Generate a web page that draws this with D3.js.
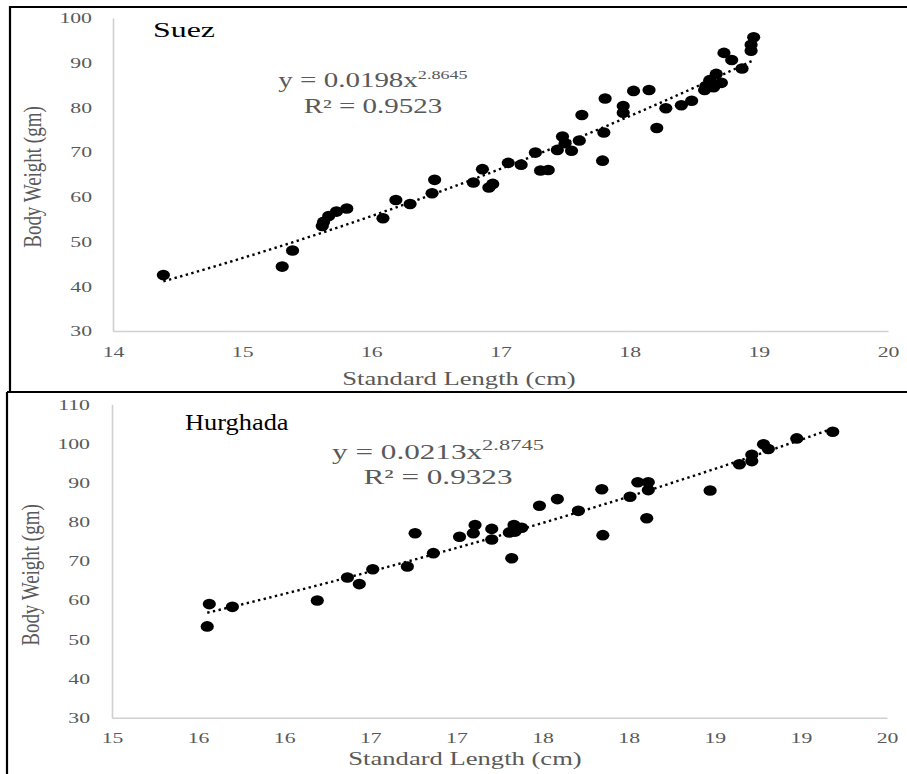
<!DOCTYPE html>
<html>
<head>
<meta charset="utf-8">
<script src="https://cdn.jsdelivr.net/npm/d3@7"></script>
<style>
  html, body { margin: 0; padding: 0; background: #fff; }
  svg { display: block; }
  text { font-family: "Liberation Serif", "Times New Roman", serif; }
</style>
</head>
<body>
<svg id="chart" width="907" height="774"></svg>
<script>
// ---------------- DATA ----------------
const suezLength = [14.39, 15.31, 15.39, 15.62, 15.63, 15.67, 15.73, 15.81, 16.09, 16.19, 16.30, 16.47, 16.49,
  16.79, 16.86, 16.91, 16.94, 17.06, 17.16, 17.27, 17.31, 17.37, 17.44, 17.48, 17.50, 17.55, 17.61, 17.63,
  17.79, 17.80, 17.81, 17.95, 17.95, 18.03, 18.15, 18.21, 18.28, 18.40, 18.48, 18.58, 18.59, 18.62, 18.65,
  18.67, 18.71, 18.73, 18.79, 18.87, 18.94, 18.94, 18.96];
const suezWeight = [42.5, 44.4, 48.0, 53.5, 54.4, 55.7, 56.7, 57.4, 55.2, 59.3, 58.4, 60.8, 63.8,
  63.2, 66.2, 62.1, 62.9, 67.6, 67.2, 69.9, 65.9, 66.0, 70.5, 73.5, 72.0, 70.3, 72.6, 78.3,
  68.1, 74.4, 82.0, 80.3, 78.8, 83.7, 83.9, 75.4, 79.8, 80.5, 81.5, 83.9, 84.8, 86.1, 84.5,
  87.5, 85.5, 92.2, 90.6, 88.7, 92.7, 94.0, 95.7];
const suezFit = [0.0198, 2.8645];
const suezR2 = "0.9523";
const suezXTicks = [14, 15, 16, 17, 18, 19, 20];
const suezYTicks = [30, 40, 50, 60, 70, 80, 90, 100];

const hurLength = [15.553, 15.565, 15.699, 16.192, 16.367, 16.436, 16.514, 16.715, 16.760, 16.866, 17.018,
  17.108, 17.098, 17.205, 17.205, 17.321, 17.307, 17.334, 17.340, 17.379, 17.482, 17.586, 17.708,
  17.844, 17.850, 18.008, 18.053, 18.114, 18.114, 18.105, 18.473, 18.643, 18.715, 18.715, 18.783,
  18.811, 18.976, 19.185];
const hurWeight = [53.3, 59.0, 58.3, 59.9, 65.8, 64.1, 67.9, 68.6, 77.1, 72.0, 76.2,
  79.2, 77.1, 78.2, 75.5, 70.7, 77.3, 79.2, 77.5, 78.5, 84.1, 85.8, 82.8,
  88.3, 76.6, 86.4, 90.1, 90.1, 88.1, 80.9, 88.0, 94.7, 95.5, 97.1, 99.8,
  98.6, 101.3, 103.0];
const hurFit = [0.0213, 2.8745];
const hurR2 = "0.9323";
const hurXTicks = [15, 15.5, 16, 16.5, 17, 17.5, 18, 18.5, 19, 19.5];
const hurXTickLabels = ["15", "16", "16", "17", "17", "18", "18", "19", "19", "20"];
const hurYTicks = [30, 40, 50, 60, 70, 80, 90, 100, 110];

const xTitle = "Standard Length (cm)";
const yTitle = "Body Weight (gm)";

// ---------------- DRAW ----------------
const svg = d3.select("#chart");
const GRAY = "#595959";
const AXIS = "#d0d0d0";
const SX = 1.45;

function stretchedText(g, x, y, str, size, sx, anchor, fill) {
  return g.append("text")
    .attr("transform", `translate(${x},${y}) scale(${sx},1)`)
    .attr("text-anchor", anchor)
    .attr("font-size", size)
    .attr("fill", fill)
    .text(str);
}

function drawPanel(cfg) {
  const g = svg.append("g");
  // frame
  g.append("path")
    .attr("d", cfg.frame)
    .attr("fill", "none").attr("stroke", "#000").attr("stroke-width", 2.2);

  const x = d3.scaleLinear().domain(cfg.xDomain).range(cfg.xRange);
  const y = d3.scaleLinear().domain(cfg.yDomain).range(cfg.yRange);

  // x axis
  const xa = g.append("g")
    .attr("transform", `translate(0,${cfg.yRange[0]})`)
    .call(d3.axisBottom(x).tickValues(cfg.xTicks).tickSize(0).tickPadding(15)
      .tickFormat((d, i) => cfg.xLabels ? cfg.xLabels[i] : d3.format("d")(d)));
  xa.select(".domain").attr("stroke", AXIS).attr("stroke-width", 1.6);
  xa.selectAll(".tick text")
    .attr("font-size", 15).attr("fill", GRAY)
    .attr("font-family", "Liberation Serif, serif")
    .each(function () {
      const t = d3.select(this);
      const yy = +t.attr("y");
      t.attr("y", 0).attr("transform", `translate(0,${yy}) scale(${SX},1)`);
    });

  // y axis
  const ya = g.append("g")
    .attr("transform", `translate(${cfg.xRange[0]},0)`)
    .call(d3.axisLeft(y).tickValues(cfg.yTicks).tickSize(0).tickFormat(d3.format("d")));
  ya.select(".domain").attr("stroke", AXIS).attr("stroke-width", 1.6);
  ya.selectAll(".tick text")
    .attr("font-size", 15).attr("fill", GRAY)
    .attr("font-family", "Liberation Serif, serif")
    .attr("text-anchor", "end")
    .attr("x", 0)
    .attr("transform", `translate(${-cfg.yGap},0) scale(${SX},1)`);

  // trend line (power fit shown on chart)
  const xmin = d3.min(cfg.xs), xmax = d3.max(cfg.xs);
  const trend = d3.range(0, 101).map(i => {
    const xv = xmin + (xmax - xmin) * i / 100;
    return [xv, cfg.fit[0] * Math.pow(xv, cfg.fit[1])];
  });
  g.append("path")
    .datum(trend)
    .attr("d", d3.line().x(d => x(d[0])).y(d => y(d[1])))
    .attr("fill", "none").attr("stroke", "#000")
    .attr("stroke-width", 2.4).attr("stroke-dasharray", "2.4,3.4");

  // points
  g.append("g").selectAll("ellipse")
    .data(cfg.xs.map((v, i) => [v, cfg.ys[i]]))
    .join("ellipse")
    .attr("cx", d => x(d[0])).attr("cy", d => y(d[1]))
    .attr("rx", 6.6).attr("ry", 5.3)
    .attr("fill", "#000");

  // site label
  stretchedText(g, cfg.site[1], cfg.site[2], cfg.site[0], cfg.site[3], cfg.site[4], "start", "#000");

  // equation
  const eq = g.append("text")
    .attr("transform", `translate(${cfg.eqX},${cfg.eqY}) scale(${SX},1)`)
    .attr("text-anchor", "middle")
    .attr("font-size", cfg.eqSize).attr("fill", GRAY);
  eq.append("tspan").text(`y = ${cfg.fit[0]}x`);
  eq.append("tspan").attr("font-size", cfg.supSize).attr("dy", -cfg.eqSize * 0.42).text(cfg.fit[1].toFixed(4));
  stretchedText(g, cfg.eqX, cfg.eqY + cfg.eqGap, `R² = ${cfg.r2}`, cfg.eqSize, SX, "middle", GRAY);

  // axis titles
  stretchedText(g, cfg.xTitlePos[0], cfg.xTitlePos[1], xTitle, 19, 1.4, "middle", GRAY);
  g.append("text")
    .attr("transform", `translate(${cfg.yTitlePos[0]},${cfg.yTitlePos[1]}) rotate(-90) scale(1,1.3)`)
    .attr("text-anchor", "middle")
    .attr("dy", "0.35em")
    .attr("font-size", 19).attr("fill", GRAY)
    .text(yTitle);
}

drawPanel({
  frame: "M10,392 L10,7 L920,7 M10,392 L920,392",
  xDomain: [14, 20], xRange: [113, 888],
  yDomain: [30, 100], yRange: [331, 18],
  xTicks: suezXTicks, yTicks: suezYTicks, yGap: 21,
  xs: suezLength, ys: suezWeight, fit: suezFit, r2: suezR2,
  site: ["Suez", 153, 37, 22, 1.45],
  eqX: 373, eqY: 87, eqGap: 26, eqSize: 20, supSize: 12.5,
  xTitlePos: [459, 385], yTitlePos: [32, 177]
});

drawPanel({
  frame: "M7,392 L7,790 M7,392 L920,392",
  xDomain: [15, 19.5], xRange: [112, 887],
  yDomain: [30, 110], yRange: [717.7, 404.3],
  xTicks: hurXTicks, xLabels: hurXTickLabels, yTicks: hurYTicks, yGap: 22,
  xs: hurLength, ys: hurWeight, fit: hurFit, r2: hurR2,
  site: ["Hurghada", 185, 430, 24, 1.1],
  eqX: 438, eqY: 459, eqGap: 25, eqSize: 21.5, supSize: 15.5,
  xTitlePos: [465, 765], yTitlePos: [30, 575]
});
</script>
</body>
</html>
